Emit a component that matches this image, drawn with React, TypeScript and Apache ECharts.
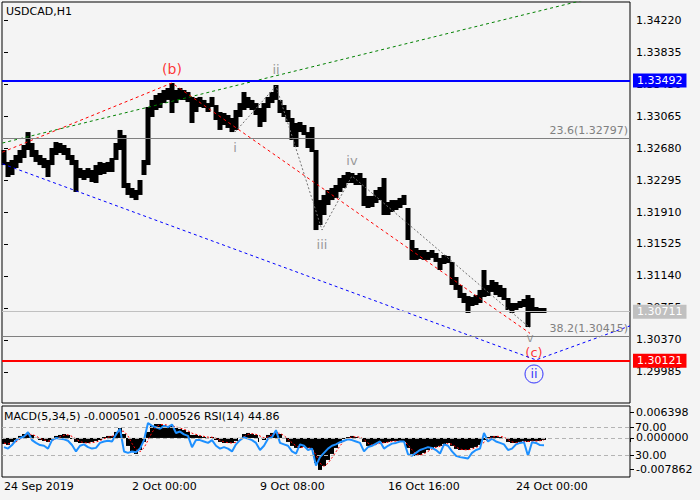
import React, { useEffect, useRef } from "react";
import * as echarts from "echarts";

const FONT = "'DejaVu Sans', sans-serif";

const symbolName = "USDCAD,H1";
const indicatorTitle = "MACD(5,34,5) -0.000501 -0.000526 RSI(14) 44.86";
const timeTicks = ["24 Sep 2019", "2 Oct 00:00", "9 Oct 08:00", "16 Oct 16:00", "24 Oct 00:00"];
const barsPerTick = 32;
const totalSlots = 157;

// 4-hour groups of the H1 bars: high / low
const highs = [
  1.32656, 1.32512, 1.32536, 1.32596, 1.32656, 1.32716, 1.32872, 1.3274, 1.32656, 1.32596,
  1.3256, 1.32536, 1.3268, 1.32752, 1.3274, 1.32716, 1.3268, 1.32596, 1.32536, 1.32439,
  1.32415, 1.32439, 1.32415, 1.32475, 1.32512, 1.325, 1.32512, 1.3256, 1.3274, 1.32897,
  1.32836, 1.32259, 1.32199, 1.32175, 1.32295, 1.32536, 1.33173, 1.33258, 1.33318, 1.33342,
  1.33378, 1.33402, 1.33462, 1.33378, 1.33402, 1.33378, 1.33354, 1.33294, 1.33282, 1.33294,
  1.33258, 1.33221, 1.33294, 1.33197, 1.33113, 1.33101, 1.33077, 1.33041, 1.33137, 1.33221,
  1.33354, 1.33294, 1.33258, 1.33221, 1.33161, 1.33221, 1.33294, 1.33354, 1.33438, 1.33258,
  1.33197, 1.33137, 1.33041, 1.32981, 1.32993, 1.32957, 1.32872, 1.32933, 1.32656, 1.32054,
  1.32115, 1.32175, 1.32199, 1.32235, 1.32319, 1.32355, 1.32391, 1.32379, 1.32355, 1.32379,
  1.32319, 1.32103, 1.32103, 1.32175, 1.32211, 1.32319, 1.3203, 1.32054, 1.32054, 1.32079,
  1.32115, 1.31958, 1.31573, 1.31477, 1.31453, 1.31453, 1.31429, 1.31453, 1.31417, 1.31357,
  1.31393, 1.31381, 1.31309, 1.31128, 1.31032, 1.30936, 1.30899, 1.30887, 1.30911, 1.30972,
  1.31212, 1.31032, 1.31092, 1.31068, 1.31032, 1.30996, 1.30875, 1.30815, 1.30815, 1.30839,
  1.30863, 1.30911, 1.30875, 1.30767, 1.30755, 1.30755,
];
const lows = [
  1.32475, 1.32331, 1.32355, 1.32439, 1.325, 1.3256, 1.32656, 1.32572, 1.32512, 1.32475,
  1.32439, 1.32331, 1.32475, 1.32596, 1.3262, 1.32596, 1.32536, 1.32475, 1.32151, 1.32319,
  1.32295, 1.32319, 1.32271, 1.32259, 1.32355, 1.32367, 1.32391, 1.32391, 1.32536, 1.32656,
  1.32199, 1.32115, 1.32079, 1.32054, 1.32115, 1.32355, 1.32475, 1.33053, 1.33137, 1.33161,
  1.33221, 1.33258, 1.33101, 1.33221, 1.33258, 1.33258, 1.33233, 1.32981, 1.33113, 1.33173,
  1.33161, 1.33113, 1.33173, 1.33017, 1.32897, 1.32957, 1.32921, 1.32872, 1.32897, 1.33053,
  1.33137, 1.33161, 1.33137, 1.33077, 1.32933, 1.32993, 1.33161, 1.33221, 1.33258, 1.33101,
  1.33053, 1.32993, 1.32776, 1.32692, 1.32872, 1.32836, 1.3268, 1.32632, 1.31693, 1.31754,
  1.31874, 1.31994, 1.32054, 1.32079, 1.32151, 1.32199, 1.32259, 1.32259, 1.32235, 1.32235,
  1.31982, 1.31958, 1.3197, 1.32018, 1.32054, 1.31874, 1.31874, 1.3191, 1.31934, 1.31958,
  1.31994, 1.31573, 1.31333, 1.31333, 1.31345, 1.31333, 1.31333, 1.31357, 1.31309, 1.31212,
  1.31284, 1.31296, 1.31032, 1.30972, 1.30875, 1.30815, 1.30695, 1.30779, 1.30791, 1.30815,
  1.30887, 1.30899, 1.30948, 1.30911, 1.30887, 1.30851, 1.30731, 1.30695, 1.30731, 1.30755,
  1.30767, 1.30526, 1.30695, 1.30695, 1.30695, 1.30695,
];
const macd = [
  -0.00152, -0.00177, -0.00101, -0.00051, 0.00051, 0.00101, 0.00127, 0.00076, 0.00005, -0.00051,
  -0.00076, -0.00101, -0.00051, 0.00051, 0.00076, 0.00101, 0.00076, -0.00025, -0.00101, -0.00127,
  -0.00127, -0.00127, -0.00101, -0.00076, -0.00051, 0.00025, 0.00051, 0.00051, 0.00152, 0.00253,
  0.00101, -0.00202, -0.00354, -0.00405, -0.00304, -0.00101, 0.00152, 0.00304, 0.00354, 0.00354,
  0.00329, 0.00304, 0.00304, 0.00253, 0.00228, 0.00202, 0.00152, 0.00076, 0.00076, 0.00051,
  0.00025, 0.00003, 0.00025, -0.00051, -0.00101, -0.00127, -0.00127, -0.00127, -0.00076, 0.00003,
  0.00101, 0.00127, 0.00101, 0.00076, 0.00003, -0.00051, 0.00076, 0.00127, 0.00152, 0.00101,
  0.00002, -0.00101, -0.00202, -0.00253, -0.00253, -0.00228, -0.00253, -0.00304, -0.00633, -0.0081,
  -0.00709, -0.00557, -0.00405, -0.00253, -0.00127, -0.00025, 0.00025, 0.00051, 0.00025, 0.00002,
  -0.00101, -0.00202, -0.00202, -0.00152, -0.00101, -0.00127, -0.00101, -0.00076, -0.00076, -0.00076,
  -0.00101, -0.00253, -0.00405, -0.00456, -0.0043, -0.0038, -0.00304, -0.00253, -0.00228, -0.00202,
  -0.00152, -0.00127, -0.00202, -0.00278, -0.00304, -0.00304, -0.00304, -0.00253, -0.00228, -0.00177,
  -0.00051, 0.00025, 0.00051, 0.00051, 0.00025, 0.00002, -0.00101, -0.00127, -0.00127, -0.00101,
  -0.00076, -0.00101, -0.00076, -0.00076, -0.00076, -0.000501,
];
const signal = [
  -0.0013, -0.0015, -0.0014, -0.001, -0.0003, 0.0004, 0.0009, 0.0009, 0.0005, -0.0001,
  -0.0005, -0.0008, -0.0007, -0.0002, 0.0003, 0.0007, 0.0008, 0.0004, -0.0003, -0.0009,
  -0.0012, -0.0013, -0.0012, -0.001, -0.0007, -0.0002, 0.0002, 0.0004, 0.0009, 0.0017,
  0.0017, 0.0005, -0.0014, -0.003, -0.0035, -0.0025, -0.0006, 0.0014, 0.0028, 0.0034,
  0.0034, 0.0032, 0.0031, 0.0028, 0.0025, 0.0022, 0.0018, 0.0012, 0.0009, 0.0006,
  0.0004, 0.0002, 0.0002, -0.0001, -0.0006, -0.001, -0.0012, -0.0013, -0.0011, -0.0005,
  0.0003, 0.0009, 0.0011, 0.0009, 0.0005, 0.0, 0.0003, 0.0008, 0.0012, 0.0012,
  0.0006, -0.0003, -0.0012, -0.002, -0.0024, -0.0024, -0.0024, -0.0027, -0.0043, -0.0064,
  -0.0072, -0.0064, -0.005, -0.0035, -0.002, -0.0008, -0.0001, 0.0003, 0.0003, 0.0002,
  -0.0004, -0.0013, -0.0018, -0.0017, -0.0013, -0.0012, -0.0011, -0.0009, -0.0008, -0.0008,
  -0.0009, -0.0017, -0.003, -0.0041, -0.0044, -0.004, -0.0034, -0.0028, -0.0024, -0.0021,
  -0.0018, -0.0014, -0.0016, -0.0023, -0.0028, -0.003, -0.003, -0.0028, -0.0024, -0.002,
  -0.0011, -0.0003, 0.0002, 0.0004, 0.0004, 0.0002, -0.0004, -0.001, -0.0012, -0.0011,
  -0.0009, -0.0009, -0.0008, -0.0008, -0.0007, -0.000526,
];
const rsi = [
  42, 40, 45, 52, 55, 57, 63, 52, 48, 45,
  44, 40, 52, 55, 54, 53, 51, 45, 36, 44,
  46, 42, 40, 41, 48, 50, 51, 50, 60, 68,
  36, 34, 36, 35, 40, 52, 76, 72, 70, 68,
  72, 70, 74, 62, 64, 60, 58, 42, 52, 52,
  50, 48, 52, 44, 40, 42, 40, 36, 46, 52,
  56, 54, 52, 48, 38, 44, 54, 56, 66, 48,
  46, 44, 36, 33, 46, 44, 38, 40, 16, 28,
  34, 40, 44, 46, 49, 51, 53, 52, 50, 48,
  36, 42, 44, 47, 50, 40, 44, 47, 48, 50,
  50, 32, 30, 34, 38, 40, 42, 41, 38, 33,
  46, 44, 36, 30, 28, 27, 26, 34, 38, 40,
  62, 50, 54, 50, 48, 46, 38, 40, 46, 48,
  49, 30, 49, 48, 45, 44.86,
];

const priceTicks = [1.29985, 1.3037, 1.30755, 1.3114, 1.31525, 1.3191, 1.32295, 1.3268, 1.33065, 1.3345, 1.33835, 1.3422];
const priceMin = 1.29612;
const priceMax = 1.344366;
const macdTicks = [-0.007862, 0, 0.006398];
const macdMin = -0.009888;
const macdMax = 0.008095;
const rsiTicks = [30, 70];

const resistance = 1.33492;
const support = 1.30121;
const lastPrice = 1.30711;
const fib236 = 1.32797;
const fib382 = 1.30415;

// trend lines: [bar group index, price]
const redWave = [[-0.4, 1.3263], [42, 1.33462], [131.5, 1.3045]];
const greenLine = [[-0.4, 1.3274], [150, 1.3452]];
const blueLine = [[-0.4, 1.3249], [133, 1.3013], [156.5, 1.3054]];
const subWave = [[57.75, 1.32872], [68, 1.33426], [79.5, 1.31693], [87, 1.32343], [131.5, 1.30515]];

const waveNames = ["(b)", "i", "ii", "iii", "iv", "v", "(c)"];
const waveX = [42, 57.75, 68, 79.5, 87, 131.5, 132.5];
const waveY = [1.33631, 1.32692, 1.33619, 1.31513, 1.32524, 1.30395, 1.30218];
const waveColors = ["#ff0000", "#808080", "#808080", "#808080", "#808080", "#808080", "#ff0000"];
const waveSizes = [14, 13, 13, 13, 13, 12, 13];
const circledName = "ii";
const circledX = 132.5;
const circledY = 1.29961;

export default function App() {
  const ref = useRef<HTMLDivElement>(null);
  useEffect(() => {
    const chart = echarts.init(ref.current!, null, { renderer: "svg" });
    const slots = Array.from({ length: totalSlots }, (_, i) => String(i));
    const isTick = (i: number) => i % barsPerTick === 0 && i / barsPerTick < timeTicks.length;
    const box = (bg: string, text: string) => ({
      show: true,
      position: "end",
      distance: 3,
      formatter: text,
      color: "#ffffff",
      backgroundColor: bg,
      padding: [1, 4, 1, 4],
      lineHeight: 12,
      fontSize: 11,
      fontFamily: FONT,
    });
    const fibLabel = (text: string) => ({
      show: true,
      position: "insideEndTop",
      distance: 2,
      formatter: text,
      color: "#808080",
      fontSize: 11,
      fontFamily: FONT,
    });
    const dashed = { color: "#b4b4b4", width: 1, type: [4, 3] };
    const option: any = {
      animation: false,
      backgroundColor: "#f4f4f4",
      title: [
        { text: symbolName, left: 6, top: 6, padding: 0, textStyle: { fontSize: 11, fontWeight: "normal", color: "#000", fontFamily: FONT } },
        { text: indicatorTitle, left: 4, top: 411, padding: 0, textStyle: { fontSize: 11, fontWeight: "normal", color: "#000", fontFamily: FONT } },
      ],
      grid: [
        { left: 2, top: 2, width: 628, height: 401, show: true, borderColor: "#000", borderWidth: 1, backgroundColor: "transparent", containLabel: false, outerBoundsMode: "none" },
        { left: 2, top: 406, width: 628, height: 71, show: true, borderColor: "#000", borderWidth: 1, backgroundColor: "transparent", containLabel: false, outerBoundsMode: "none" },
      ],
      xAxis: [
        { type: "category", gridIndex: 0, data: slots, boundaryGap: true, axisLine: { show: false }, axisTick: { show: false }, axisLabel: { show: false }, splitLine: { show: false } },
        { type: "value", gridIndex: 0, min: -0.5, max: totalSlots - 0.5, show: false, position: "bottom" },
        {
          type: "category", gridIndex: 1, data: slots, boundaryGap: true, position: "bottom",
          axisLine: { show: false },
          axisTick: { show: true, length: 4, interval: (i: number) => isTick(i), lineStyle: { color: "#000" } },
          axisLabel: {
            show: true, interval: (i: number) => isTick(i), align: "left", margin: 4,
            formatter: (_v: string, i: number) => (isTick(i) ? timeTicks[i / barsPerTick] : ""),
            color: "#000", fontSize: 11, fontFamily: FONT,
          },
          splitLine: { show: false },
        },
      ],
      yAxis: [
        {
          type: "value", gridIndex: 0, position: "right", min: priceMin, max: priceMax,
          axisLine: { show: false }, splitLine: { show: false },
          axisTick: { show: true, length: 4, customValues: priceTicks, lineStyle: { color: "#000" } },
          axisLabel: { customValues: priceTicks, formatter: (v: number) => v.toFixed(5), color: "#000", fontSize: 11, fontFamily: FONT, margin: 6 },
        },
        {
          type: "value", gridIndex: 1, position: "right", min: macdMin, max: macdMax,
          axisLine: { show: false }, splitLine: { show: false },
          axisTick: { show: true, length: 4, customValues: macdTicks, lineStyle: { color: "#000" } },
          axisLabel: { customValues: macdTicks, formatter: (v: number) => v.toFixed(6), color: "#000", fontSize: 11, fontFamily: FONT, margin: 6 },
        },
        {
          type: "value", gridIndex: 1, position: "right", min: 0, max: 100,
          axisLine: { show: false }, splitLine: { show: false },
          axisTick: { show: true, length: 4, customValues: rsiTicks, lineStyle: { color: "#000" } },
          axisLabel: { customValues: rsiTicks, formatter: (v: number) => v.toFixed(2), color: "#000", fontSize: 11, fontFamily: FONT, margin: 5 },
        },
      ],
      series: [
        {
          type: "line", xAxisIndex: 1, yAxisIndex: 0, data: [], clip: false, silent: true, symbol: "none",
          markLine: {
            silent: true, symbol: ["none", "none"], animation: false, precision: 6,
            data: [
              { yAxis: fib236, lineStyle: { color: "#808080", width: 1, type: "solid" }, label: fibLabel(`23.6(${fib236.toFixed(5)})`) },
              { yAxis: fib382, lineStyle: { color: "#808080", width: 1, type: "solid" }, label: fibLabel(`38.2(${fib382.toFixed(5)})`) },
              { yAxis: lastPrice, lineStyle: { color: "#c0c0c0", width: 1, type: "solid" }, label: box("#c0c0c0", lastPrice.toFixed(5)) },
              { yAxis: resistance, lineStyle: { color: "#0000ff", width: 2, type: "solid" }, label: box("#0000ff", resistance.toFixed(5)) },
              { yAxis: support, lineStyle: { color: "#ff0000", width: 2, type: "solid" }, label: box("#ff0000", support.toFixed(5)) },
            ],
          },
        },
        {
          type: "candlestick", xAxisIndex: 0, yAxisIndex: 0, barWidth: 5, silent: true,
          itemStyle: { color: "#000", color0: "#000", borderColor: "#000", borderColor0: "#000", borderWidth: 0 },
          data: highs.map((h, i) => [lows[i], h, lows[i], h]),
        },
        { type: "line", xAxisIndex: 1, yAxisIndex: 0, data: greenLine, symbol: "none", silent: true, lineStyle: { color: "#008000", width: 1, type: [3, 3] } },
        { type: "line", xAxisIndex: 1, yAxisIndex: 0, data: blueLine, symbol: "none", silent: true, lineStyle: { color: "#0000ff", width: 1, type: [3, 3] } },
        { type: "line", xAxisIndex: 1, yAxisIndex: 0, data: redWave, symbol: "none", silent: true, lineStyle: { color: "#ff0000", width: 1, type: [3, 3] } },
        { type: "line", xAxisIndex: 1, yAxisIndex: 0, data: subWave, symbol: "none", silent: true, lineStyle: { color: "#707070", width: 1, type: [2, 2] } },
        {
          type: "scatter", xAxisIndex: 1, yAxisIndex: 0, symbolSize: 0, silent: true,
          data: waveNames.map((n, i) => ({
            name: n, value: [waveX[i], waveY[i]],
            label: { show: true, position: "inside", formatter: "{b}", color: waveColors[i], fontSize: waveSizes[i], fontFamily: FONT },
          })),
        },
        {
          type: "scatter", xAxisIndex: 1, yAxisIndex: 0, symbol: "circle", symbolSize: 18, silent: true,
          itemStyle: { color: "rgba(0,0,0,0)", borderColor: "#0000ff", borderWidth: 1 },
          data: [{ name: circledName, value: [circledX, circledY] }],
          label: { show: true, position: "inside", formatter: "{b}", color: "#0000ff", fontSize: 13, fontFamily: FONT },
        },
        {
          type: "bar", xAxisIndex: 2, yAxisIndex: 1, data: macd, barWidth: 4, silent: true,
          itemStyle: { color: "#000" },
          markLine: { silent: true, symbol: ["none", "none"], precision: 6, label: { show: false }, lineStyle: dashed, data: [{ yAxis: 0 }] },
        },
        { type: "line", xAxisIndex: 2, yAxisIndex: 1, data: signal, symbol: "none", silent: true, lineStyle: { color: "#ff0000", width: 1, type: [2, 2] } },
        {
          type: "line", xAxisIndex: 2, yAxisIndex: 2, data: rsi, symbol: "none", silent: true,
          lineStyle: { color: "#1e90ff", width: 2 },
          markLine: { silent: true, symbol: ["none", "none"], label: { show: false }, lineStyle: dashed, data: [{ yAxis: 70 }, { yAxis: 30 }] },
        },
      ],
    };
    chart.setOption(option);
    return () => chart.dispose();
  }, []);
  return (
    <div
      ref={ref}
      style={{ position: "fixed", left: 0, top: 0, width: 700, height: 500, background: "#f4f4f4" }}
    />
  );
}
